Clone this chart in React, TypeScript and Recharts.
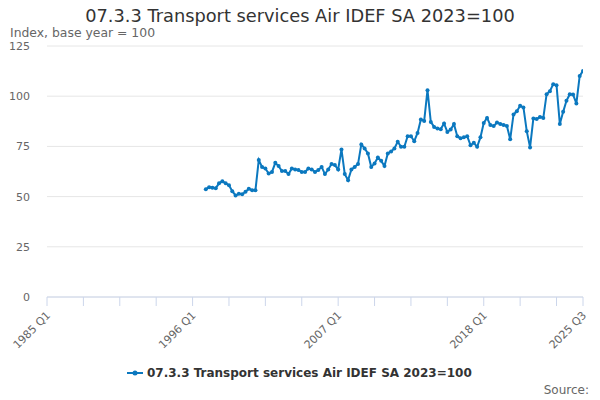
import { LineChart, Line, XAxis, YAxis, CartesianGrid } from "recharts";

const START_YEAR = 1985;
const SERIES_START = 48; // first observation: 1997 Q1
const LAST_INDEX = 162; // 2025 Q3

// 07.3.3 Transport services Air, quarterly, 1997 Q1 .. 2025 Q3
const airIndex = [
  53.7, 54.7, 54.4, 54.2, 56.6, 57.7, 56.6, 55.7, 52.7, 50.6, 51.4, 51.2, 52.4, 53.9, 53.2, 53.2,
  68.2, 64.8, 64.0, 61.5, 62.3, 66.8, 65.2, 62.7, 62.7, 61.2, 64.0, 63.5, 63.2, 62.3, 62.3, 64.0,
  63.5, 62.3, 63.2, 64.8, 61.2, 63.5, 66.2, 65.7, 63.5, 73.5, 61.2, 58.2, 63.5, 64.8, 66.2, 76.0,
  74.0, 71.5, 64.8, 66.5, 69.5, 67.8, 65.2, 71.5, 72.5, 74.0, 77.3, 74.8, 74.8, 80.1, 80.1, 77.6,
  81.7, 88.4, 87.7, 103.0, 87.2, 84.7, 83.9, 83.6, 86.4, 82.2, 83.4, 86.1, 80.1, 79.0, 79.5, 80.1,
  75.6, 76.8, 74.8, 79.5, 86.7, 89.2, 85.6, 85.1, 86.9, 86.1, 85.7, 85.2, 78.6, 90.9, 92.5, 95.2,
  94.4, 82.6, 74.5, 88.9, 88.6, 89.7, 89.2, 101.0, 102.5, 106.0, 105.5, 86.1, 92.2, 97.7, 101.0, 100.8,
  96.4, 110.1, 112.6,
];

const xTicks = [0, 11, 22, 33, 44, 55, 66, 77, 88, 99, 110, 121, 132, 143, 154, 162];
const xLabelTicks = [0, 44, 88, 132, 162];
const yTicks = [0, 25, 50, 75, 100, 125];

const TITLE = "07.3.3 Transport services Air IDEF SA 2023=100";
const LINE_COLOR = "#0b78bf";
const FONT = "'DejaVu Sans', Arial, sans-serif";

const quarterLabel = (i: number) => `${START_YEAR + Math.floor(i / 4)} Q${(i % 4) + 1}`;

const data = airIndex.map((v, k) => ({
  i: SERIES_START + k,
  quarter: quarterLabel(SERIES_START + k),
  value: v,
}));

const RotatedTick = ({ x, y, payload }: any) => {
  if (!xLabelTicks.includes(payload.value)) return null;
  const ax = x + 4;
  const ay = y + 8;
  return (
    <text x={ax} y={ay} textAnchor="end" fontSize={11} fill="#666"
      transform={`rotate(-45, ${ax}, ${ay})`}>
      {quarterLabel(payload.value)}
    </text>
  );
};

export default function App() {
  return (
    <div style={{ position: "absolute", left: 0, top: 0, width: 600, height: 400, fontFamily: FONT }}>
      <LineChart width={600} height={400} data={data}
        margin={{ top: 46, right: 17, bottom: 43, left: 10 }}>
        <CartesianGrid vertical={false} stroke="#e6e6e6" />
        <XAxis dataKey="i" type="number" domain={[0, LAST_INDEX]} ticks={xTicks}
          interval={0} height={60} stroke="#ccd6eb" tickSize={9} tickMargin={2}
          tick={<RotatedTick />} allowDataOverflow />
        <YAxis domain={[0, 125]} ticks={yTicks} width={37} axisLine={false}
          tickLine={false} tickSize={0} tickMargin={17}
          tick={{ fontSize: 11, fill: "#666" }} />
        <Line dataKey="value" type="linear" stroke={LINE_COLOR} strokeWidth={2}
          dot={{ r: 2, fill: LINE_COLOR, stroke: LINE_COLOR, strokeWidth: 0 }}
          isAnimationActive={false} />
      </LineChart>
      <svg width={600} height={400} style={{ position: "absolute", left: 0, top: 0, pointerEvents: "none" }}>
        <text x={300} y={22} textAnchor="middle" fontSize={17.8} fill="#333">{TITLE}</text>
        <text x={10} y={37} fontSize={12.4} fill="#666">Index, base year = 100</text>
        <line x1={127} x2={143} y1={373} y2={373} stroke={LINE_COLOR} strokeWidth={2} />
        <circle cx={135} cy={373} r={2.5} fill={LINE_COLOR} />
        <text x={147} y={377} fontSize={12} fontWeight="bold" fill="#333">{TITLE}</text>
        <text x={589} y={394} textAnchor="end" fontSize={12} fill="#666">Source:</text>
      </svg>
    </div>
  );
}
